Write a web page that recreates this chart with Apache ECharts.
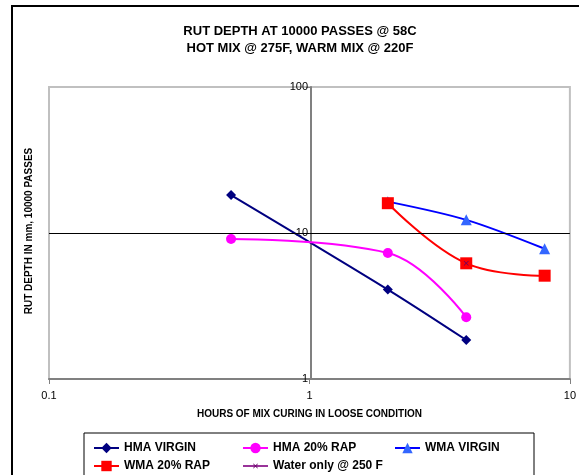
<!DOCTYPE html>
<html lang="en">
<head>
  <meta charset="utf-8">
  <title>Rut depth at 10000 passes</title>
  <script src="https://cdn.jsdelivr.net/npm/echarts@6/dist/echarts.min.js"></script>
  <style>
    html, body { margin: 0; padding: 0; background: #fff; }
    #chart { width: 579px; height: 475px; }
  </style>
</head>
<body>
<div id="chart"></div>
<script>
  // values
  const hmaHours = [0.5, 2, 4];
  const hmaVirgin = [18.2, 4.1, 1.85];
  const hmaRap = [9.1, 7.3, 2.65];
  const wmaHours = [2, 4, 8];
  const wmaVirgin = [16.4, 12.3, 7.8];
  const wmaRap = [16, 6.2, 5.1];
  const waterHours = [4];
  const waterOnly = [6.2];

  function pairs(xs, ys) {
    return xs.map((x, i) => [x, ys[i]]);
  }

  const chart = echarts.init(document.getElementById('chart'));
  const font = 'Liberation Sans, Arial, sans-serif';
  const legendText = { fontFamily: font, fontSize: 12, fontWeight: 'bold', color: '#000' };
  const crossMark = 'path://M0,1L1,0L5,4L9,0L10,1L6,5L10,9L9,10L5,6L1,10L0,9L4,5Z';

  // one legend per entry so the two rows line up in columns
  function legendAt(name, left, top, h) {
    return {
      left: left, top: top, itemWidth: 25, itemHeight: h || 13, itemGap: 0,
      textStyle: legendText, data: [name]
    };
  }

  const option = {
    animation: false,
    grid: {
      left: 49, right: 8, top: 87, bottom: 96,
      show: true, borderColor: '#c0c0c0', borderWidth: 2
    },
    xAxis: {
      type: 'log', logBase: 10, min: 0.1, max: 10,
      name: 'HOURS OF MIX CURING IN LOOSE CONDITION',
      nameLocation: 'middle', nameGap: 30,
      nameTextStyle: { fontFamily: font, fontSize: 10, fontWeight: 'bold', color: '#000' },
      axisLine: { lineStyle: { color: '#808080', width: 2 } },
      axisTick: { length: 5, lineStyle: { color: '#808080', width: 1 } },
      axisLabel: { fontFamily: font, fontSize: 11, color: '#000', margin: 11 },
      splitLine: { show: false }
    },
    yAxis: {
      type: 'log', logBase: 10, min: 1, max: 100,
      offset: -262,
      axisLine: { lineStyle: { color: '#808080', width: 2 } },
      axisTick: { length: 5, lineStyle: { color: '#808080', width: 1 } },
      axisLabel: { fontFamily: font, fontSize: 11, color: '#000', margin: 3 },
      splitLine: { show: false }
    },
    legend: [
      legendAt('HMA VIRGIN', 88, 437),
      legendAt('HMA 20% RAP', 237, 437),
      legendAt('WMA VIRGIN', 389, 437),
      legendAt('WMA 20% RAP', 88, 455),
      legendAt('Water only @ 250 F', 237, 455, 6)
    ],
    graphic: [
      { type: 'polyline', shape: { points: [[12, 480], [12, 6], [580, 6]] },
        style: { stroke: '#000', lineWidth: 2, fill: null } },
      { type: 'text', x: 300, y: 31,
        style: { text: 'RUT DEPTH AT 10000 PASSES @ 58C', font: 'bold 13px ' + font,
                 fill: '#000', textAlign: 'center', textVerticalAlign: 'middle' } },
      { type: 'text', x: 300, y: 48,
        style: { text: 'HOT MIX @ 275F, WARM MIX @ 220F', font: 'bold 13px ' + font,
                 fill: '#000', textAlign: 'center', textVerticalAlign: 'middle' } },
      { type: 'text', x: 29, y: 231, rotation: Math.PI / 2,
        style: { text: 'RUT DEPTH IN mm, 10000 PASSES', font: 'bold 10px ' + font,
                 fill: '#000', textAlign: 'center', textVerticalAlign: 'middle' } },
      { type: 'rect', shape: { x: 84, y: 433, width: 450, height: 60 },
        style: { stroke: '#000', lineWidth: 1, fill: null } }
    ],
    series: [
      {
        name: 'HMA VIRGIN', type: 'line', smooth: 0.3,
        data: pairs(hmaHours, hmaVirgin),
        symbol: 'diamond', symbolSize: 10,
        lineStyle: { color: '#000080', width: 2 },
        itemStyle: { color: '#000080' },
        markLine: {
          silent: true, symbol: 'none', label: { show: false },
          lineStyle: { color: '#000', width: 1, type: 'solid' },
          data: [{ yAxis: 10 }]
        }
      },
      {
        name: 'HMA 20% RAP', type: 'line', smooth: 0.4,
        data: pairs(hmaHours, hmaRap),
        symbol: 'circle', symbolSize: 10,
        lineStyle: { color: '#ff00ff', width: 2 },
        itemStyle: { color: '#ff00ff' }
      },
      {
        name: 'WMA VIRGIN', type: 'line', smooth: 0.3,
        data: pairs(wmaHours, wmaVirgin),
        symbol: 'triangle', symbolSize: 11,
        lineStyle: { color: '#0000ff', width: 2 },
        itemStyle: { color: '#3366ff' }
      },
      {
        name: 'WMA 20% RAP', type: 'line', smooth: 0.4,
        data: pairs(wmaHours, wmaRap),
        symbol: 'rect', symbolSize: 12,
        lineStyle: { color: '#ff0000', width: 2 },
        itemStyle: { color: '#ff0000' }
      },
      {
        name: 'Water only @ 250 F', type: 'line',
        data: pairs(waterHours, waterOnly),
        symbol: crossMark, symbolSize: 5,
        lineStyle: { color: '#993399', width: 1 },
        itemStyle: { color: '#660066' }
      }
    ]
  };

  chart.setOption(option);
</script>
</body>
</html>
